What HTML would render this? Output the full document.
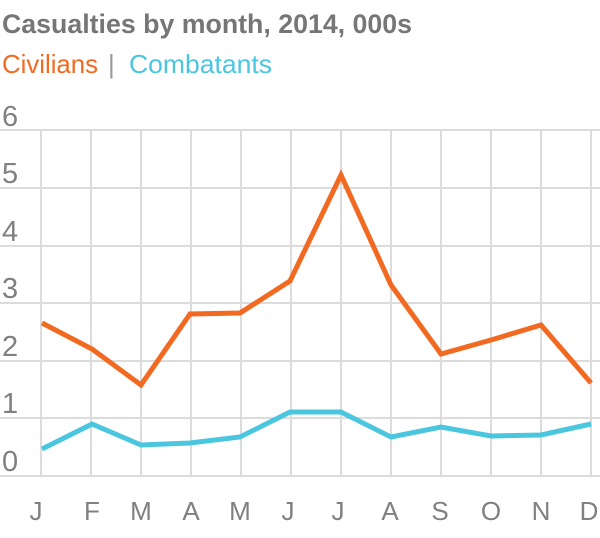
<!DOCTYPE html><html><head><style>body{margin:0;background:#fff}svg{display:block}</style></head><body>
<svg width="600" height="538" xmlns="http://www.w3.org/2000/svg" font-family="Liberation Sans, sans-serif">
<text x="2" y="33" font-size="27" font-weight="bold" fill="#767676" textLength="410" lengthAdjust="spacingAndGlyphs">Casualties by month, 2014, 000s</text>
<text x="2" y="73" font-size="26" fill="#f26a21" textLength="96" lengthAdjust="spacingAndGlyphs">Civilians</text>
<text x="108" y="73" font-size="26" fill="#999">|</text>
<text x="129" y="73" font-size="26" fill="#4bc6df" textLength="143" lengthAdjust="spacingAndGlyphs">Combatants</text>
<g stroke="#dcdcdc" stroke-width="2">
<line x1="0" y1="130" x2="600" y2="130"/><line x1="0" y1="188" x2="600" y2="188"/><line x1="0" y1="246" x2="600" y2="246"/><line x1="0" y1="303" x2="600" y2="303"/><line x1="0" y1="361" x2="600" y2="361"/><line x1="0" y1="418" x2="600" y2="418"/><line x1="0" y1="476" x2="600" y2="476"/>
<line x1="41" y1="130" x2="41" y2="476"/><line x1="91" y1="130" x2="91" y2="476"/><line x1="141" y1="130" x2="141" y2="476"/><line x1="191" y1="130" x2="191" y2="476"/><line x1="241" y1="130" x2="241" y2="476"/><line x1="291" y1="130" x2="291" y2="476"/><line x1="341" y1="130" x2="341" y2="476"/><line x1="391" y1="130" x2="391" y2="476"/><line x1="441" y1="130" x2="441" y2="476"/><line x1="491" y1="130" x2="491" y2="476"/><line x1="541" y1="130" x2="541" y2="476"/><line x1="591" y1="130" x2="591" y2="476"/>
</g>
<g font-size="29" fill="#808080">
<text x="2" y="126">6</text><text x="2" y="183">5</text><text x="2" y="241">4</text><text x="2" y="298">3</text><text x="2" y="356">2</text><text x="2" y="413">1</text><text x="2" y="471">0</text>
</g>
<g font-size="26" fill="#808080" text-anchor="middle">
<text x="36" y="520">J</text><text x="92" y="520">F</text><text x="141" y="520">M</text><text x="191" y="520">A</text><text x="240" y="520">M</text><text x="288" y="520">J</text><text x="338" y="520">J</text><text x="390" y="520">A</text><text x="440" y="520">S</text><text x="491" y="520">O</text><text x="541" y="520">N</text><text x="589" y="520">D</text>
</g>
<polyline fill="none" stroke="#f26a21" stroke-width="5" points="42,323 92,349 141,385 190,314 240,313 290,281 341,175 391,285 441,354 491,340 541,325 591,383"/>
<polyline fill="none" stroke="#4bc6df" stroke-width="5" points="42,449 92,424 141,445 190,443 240,437 290,412 341,412 391,437 441,427 491,436 541,435 591,424"/>
</svg></body></html>
